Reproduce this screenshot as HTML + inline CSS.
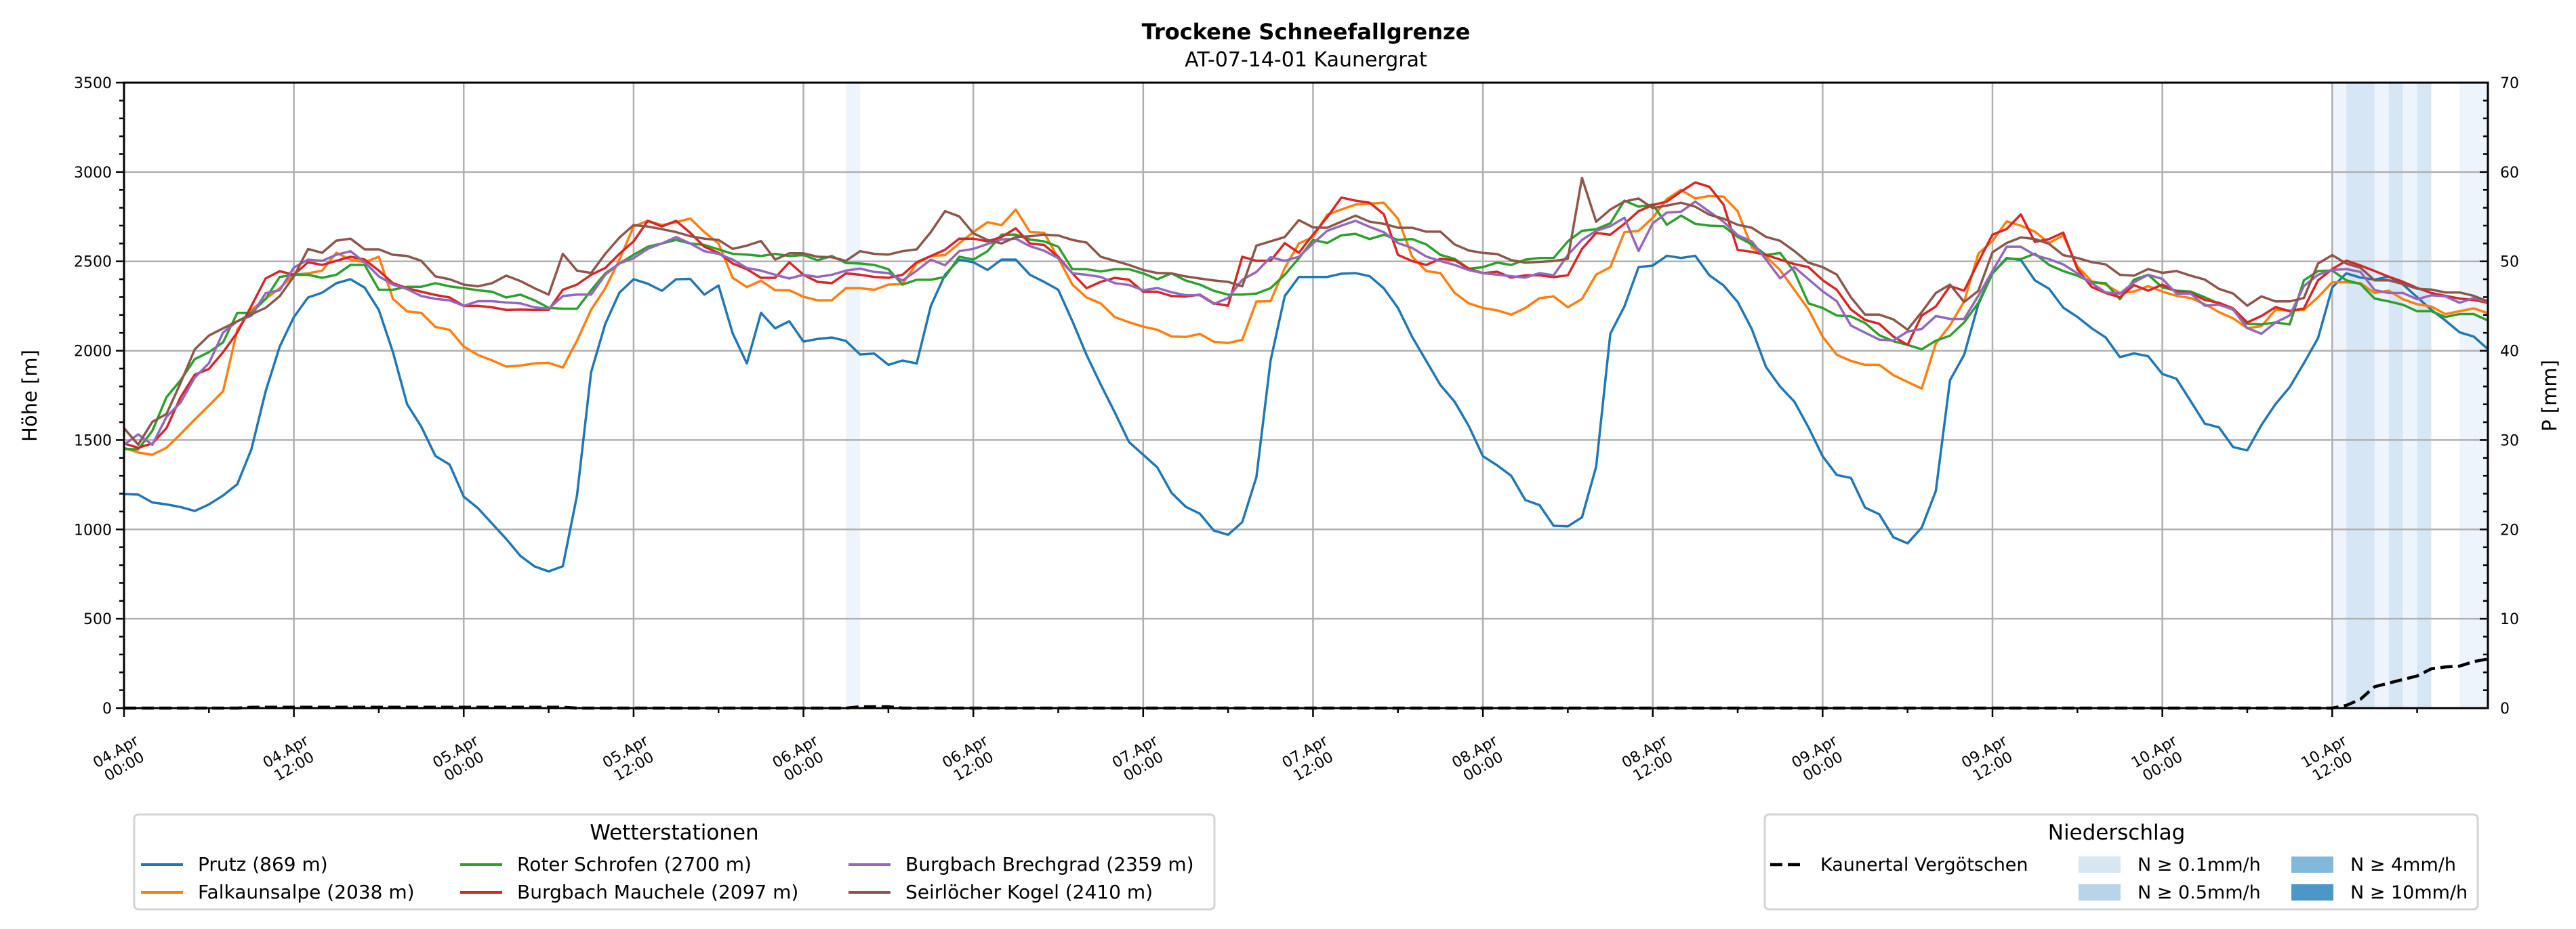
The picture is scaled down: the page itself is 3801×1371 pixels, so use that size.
<!DOCTYPE html>
<html><head><meta charset="utf-8"><style>
html,body{margin:0;padding:0;background:#fff;}
svg{display:block;font-family:"DejaVu Sans","Liberation Sans",sans-serif;}
</style></head><body>
<svg id="chart" width="3801" height="1371" viewBox="0 0 3801 1371" xmlns="http://www.w3.org/2000/svg">
<rect x="0" y="0" width="3801" height="1371" fill="#fff"/>
<text x="1927" y="58" text-anchor="middle" font-size="32" font-weight="bold">Trockene Schneefallgrenze</text>
<text x="1927" y="98" text-anchor="middle" font-size="30">AT-07-14-01 Kaunergrat</text>
<g id="bands"></g>
<g id="grid"></g>
<g id="series"></g>
<g id="axes"></g>
<text transform="translate(54,584) rotate(-90)" text-anchor="middle" font-size="29">Höhe [m]</text>
<text transform="translate(3772,584) rotate(-90)" text-anchor="middle" font-size="29">P [mm]</text>
<g id="legend1">
<rect x="198" y="1202" width="1594" height="140" rx="6" fill="#fff" stroke="#d4d4d4" stroke-width="3"/>
<text x="995" y="1239" text-anchor="middle" font-size="31">Wetterstationen</text>
</g>
<g id="legend2">
<rect x="2604" y="1202" width="1052" height="140" rx="6" fill="#fff" stroke="#d4d4d4" stroke-width="3"/>
<text x="3123" y="1239" text-anchor="middle" font-size="31">Niederschlag</text>
</g>
</svg>
<script>
const NS="http://www.w3.org/2000/svg";
const stationNames=["Prutz (869 m)","Falkaunsalpe (2038 m)","Roter Schrofen (2700 m)","Burgbach Mauchele (2097 m)","Burgbach Brechgrad (2359 m)","Seirlöcher Kogel (2410 m)"];
const stationColors=["#1f77b4","#ff7f0e","#2ca02c","#d62728","#9467bd","#8c564b"];
const xTickLabels=["04.Apr|00:00","04.Apr|12:00","05.Apr|00:00","05.Apr|12:00","06.Apr|00:00","06.Apr|12:00","07.Apr|00:00","07.Apr|12:00","08.Apr|00:00","08.Apr|12:00","09.Apr|00:00","09.Apr|12:00","10.Apr|00:00","10.Apr|12:00"];
const yTicks=[0,500,1000,1500,2000,2500,3000,3500];
const y2Ticks=[0,10,20,30,40,50,60,70];
const prutz=[1198,1195,1151,1140,1125,1103,1140,1190,1253,1449,1772,2023,2188,2298,2325,2378,2400,2353,2228,1992,1701,1575,1411,1363,1183,1119,1033,947,852,793,765,794,1190,1880,2150,2325,2400,2375,2335,2400,2402,2314,2365,2097,1929,2212,2125,2165,2051,2066,2074,2055,1979,1984,1921,1945,1929,2251,2425,2510,2495,2452,2510,2510,2425,2385,2341,2165,1976,1811,1654,1489,1418,1347,1205,1127,1088,993,970,1041,1293,1945,2306,2413,2413,2413,2431,2434,2417,2349,2239,2078,1943,1808,1715,1579,1410,1359,1300,1164,1136,1020,1017,1068,1351,2095,2248,2468,2476,2531,2519,2531,2422,2366,2273,2121,1909,1799,1715,1571,1410,1305,1288,1122,1085,956,922,1010,1215,1835,1977,2260,2433,2519,2508,2394,2347,2241,2189,2126,2074,1964,1985,1969,1870,1843,1718,1592,1571,1461,1442,1584,1702,1796,1930,2071,2354,2433,2409,2398,2414,2370,2300,2229,2169,2103,2079,2009];
const falkaunsalpe=[1457,1430,1418,1457,1534,1615,1693,1773,2117,2229,2290,2350,2425,2433,2448,2548,2510,2495,2526,2290,2220,2212,2133,2117,2023,1976,1946,1911,1917,1929,1932,1906,2056,2229,2350,2510,2695,2727,2703,2719,2740,2664,2600,2408,2356,2392,2338,2338,2302,2282,2282,2350,2350,2341,2370,2373,2488,2530,2535,2600,2664,2719,2703,2790,2664,2660,2518,2370,2298,2265,2188,2159,2135,2117,2080,2077,2094,2050,2043,2061,2275,2277,2463,2600,2636,2761,2790,2818,2823,2828,2739,2527,2446,2434,2324,2265,2239,2226,2202,2239,2294,2304,2243,2290,2426,2468,2663,2671,2744,2849,2900,2852,2866,2862,2781,2578,2527,2451,2341,2231,2079,1977,1943,1921,1921,1863,1825,1788,2040,2142,2276,2543,2614,2724,2700,2666,2603,2645,2472,2389,2370,2323,2331,2362,2331,2307,2295,2260,2216,2181,2126,2137,2229,2225,2229,2299,2383,2383,2378,2323,2336,2288,2260,2247,2205,2221,2237,2210];
const roterSchrofen=[1450,1448,1552,1740,1835,1953,1992,2047,2212,2212,2290,2413,2425,2425,2408,2425,2480,2480,2341,2341,2358,2358,2378,2360,2350,2338,2330,2298,2314,2282,2240,2235,2235,2338,2433,2488,2537,2582,2600,2620,2600,2592,2567,2542,2538,2530,2542,2530,2535,2506,2530,2491,2488,2480,2456,2370,2397,2397,2413,2526,2510,2557,2650,2650,2622,2612,2582,2456,2456,2443,2456,2456,2433,2400,2433,2393,2370,2335,2314,2314,2320,2350,2425,2518,2620,2603,2646,2654,2625,2649,2620,2625,2595,2536,2514,2459,2468,2493,2480,2510,2519,2519,2612,2671,2680,2713,2840,2806,2818,2705,2756,2710,2700,2697,2637,2595,2536,2547,2442,2265,2239,2197,2192,2155,2087,2053,2033,2008,2056,2084,2158,2268,2433,2515,2512,2543,2480,2446,2420,2383,2378,2288,2398,2425,2354,2336,2331,2299,2263,2229,2150,2147,2158,2147,2394,2446,2449,2394,2373,2292,2276,2257,2221,2221,2189,2205,2205,2169];
const mauchele=[1481,1457,1481,1567,1740,1866,1898,1992,2102,2251,2404,2445,2425,2495,2480,2503,2526,2510,2448,2378,2350,2330,2312,2298,2251,2251,2243,2228,2230,2228,2228,2341,2370,2425,2463,2542,2612,2727,2695,2727,2660,2582,2548,2488,2456,2408,2408,2495,2425,2385,2378,2433,2425,2413,2408,2425,2495,2530,2565,2627,2627,2612,2636,2685,2600,2592,2526,2433,2350,2385,2408,2397,2330,2330,2306,2303,2314,2265,2252,2526,2503,2503,2602,2548,2650,2747,2857,2840,2828,2764,2536,2502,2480,2514,2507,2459,2434,2442,2409,2422,2422,2412,2422,2570,2659,2649,2710,2781,2815,2835,2891,2942,2917,2818,2564,2553,2536,2510,2485,2468,2395,2341,2231,2172,2151,2079,2033,2197,2247,2362,2336,2496,2650,2681,2763,2609,2625,2661,2457,2357,2323,2299,2367,2336,2370,2331,2323,2284,2268,2237,2158,2194,2244,2221,2237,2394,2457,2504,2477,2446,2414,2386,2351,2323,2307,2292,2284,2268];
const brechgrad=[1474,1532,1474,1630,1710,1850,1930,2102,2165,2196,2322,2338,2465,2510,2503,2537,2557,2495,2416,2370,2345,2306,2290,2282,2251,2277,2277,2270,2265,2243,2235,2306,2314,2314,2425,2488,2518,2570,2600,2636,2600,2557,2542,2510,2463,2448,2425,2404,2425,2413,2425,2448,2460,2441,2435,2393,2448,2510,2478,2557,2570,2597,2622,2627,2585,2560,2518,2433,2425,2413,2378,2368,2338,2351,2327,2311,2311,2262,2295,2397,2441,2523,2503,2526,2600,2671,2700,2727,2693,2663,2603,2575,2527,2502,2480,2451,2434,2426,2417,2409,2434,2422,2536,2620,2671,2697,2744,2558,2713,2773,2778,2835,2778,2722,2646,2612,2510,2405,2468,2400,2333,2277,2141,2101,2062,2057,2107,2122,2194,2178,2178,2307,2446,2582,2582,2535,2512,2483,2433,2378,2326,2320,2383,2425,2402,2320,2320,2252,2257,2232,2126,2095,2158,2197,2362,2425,2452,2457,2441,2339,2323,2323,2288,2310,2304,2268,2295,2273];
const seirloecher=[1567,1474,1602,1646,1820,2008,2085,2125,2165,2204,2240,2305,2416,2569,2548,2616,2627,2567,2567,2537,2530,2503,2416,2400,2370,2360,2378,2420,2390,2350,2314,2542,2448,2435,2542,2633,2703,2695,2680,2664,2641,2627,2620,2570,2588,2614,2510,2545,2545,2526,2523,2503,2557,2542,2538,2557,2567,2664,2781,2752,2657,2620,2600,2636,2640,2650,2645,2620,2605,2526,2503,2480,2452,2435,2433,2416,2404,2393,2385,2360,2588,2612,2636,2731,2690,2688,2722,2756,2722,2710,2688,2688,2666,2666,2595,2561,2547,2541,2507,2493,2497,2502,2514,2967,2722,2790,2835,2852,2798,2812,2828,2806,2761,2739,2705,2688,2637,2615,2558,2493,2468,2426,2299,2202,2202,2175,2118,2216,2323,2370,2273,2335,2551,2603,2634,2625,2598,2535,2519,2496,2483,2425,2420,2457,2436,2446,2420,2398,2346,2320,2252,2304,2276,2276,2295,2488,2535,2488,2464,2394,2394,2373,2347,2342,2326,2326,2307,2276];
// cumulative precipitation (mm), hourly h0..h167 (rows of 12)
const precipSum=[
0,0,0,0,0,0,0,0,0,0.1,0.1,0.1,
0.1,0.1,0.1,0.1,0.1,0.1,0.1,0.1,0.1,0.1,0.1,0.1,
0.1,0.1,0.1,0.1,0.1,0.1,0.1,0.1,0,0,0,0,
0,0,0,0,0,0,0,0,0,0,0,0,
0,0,0,0,0.15,0.15,0.15,0,0,0,0,0,
0,0,0,0,0,0,0,0,0,0,0,0,
0,0,0,0,0,0,0,0,0,0,0,0,
0,0,0,0,0,0,0,0,0,0,0,0,
0,0,0,0,0,0,0,0,0,0,0,0,
0,0,0,0,0,0,0,0,0,0,0,0,
0,0,0,0,0,0,0,0,0,0,0,0,
0,0,0,0,0,0,0,0,0,0,0,0,
0,0,0,0,0,0,0,0,0,0,0,0,
0,0.3,1.0,2.4,2.8,3.2,3.6,4.4,4.6,4.7,5.2,5.5];
// hourly precipitation rate (mm/h) per interval [h, h+1]
const precipRateHours=[51,156,157,158,159,160,161,162,165,166];
const precipRateValues=[0.15,0.3,0.9,1.1,0.4,0.6,0.4,0.7,0.3,0.3];

const series=[prutz,falkaunsalpe,roterSchrofen,mauchele,brechgrad,seirloecher];
const L=183,R=3671,T=122,B=1045,NH=167;
const x=h=>L+h*(R-L)/NH;
const y=v=>B-v*(B-T)/3500;
const yP=p=>B-p*(B-T)/70;
function mk(tag,attrs,parent){const e=document.createElementNS(NS,tag);for(const k in attrs)e.setAttribute(k,attrs[k]);parent.appendChild(e);return e;}
const bands=document.getElementById('bands'),grid=document.getElementById('grid'),sg=document.getElementById('series'),ax=document.getElementById('axes');
function bandColor(r){return r>=10?"#4a97c8":r>=4?"#82b8d9":r>=0.5?"#d6e6f4":r>=0.1?"#eef4fb":null;}
precipRateHours.forEach((h,i)=>{const c=bandColor(precipRateValues[i]);if(!c)return;
 const r=mk('rect',{x:x(h),y:T,width:x(h+1)-x(h),height:B-T,fill:c},bands);
 
 });
yTicks.forEach(v=>{const l=mk('line',{x1:L,x2:R,y1:y(v),y2:y(v),stroke:"#b0b0b0","stroke-width":2.5},grid);
 
 });
xTickLabels.forEach((t,i)=>{const xx=x(i*12);const l=mk('line',{x1:xx,x2:xx,y1:T,y2:B,stroke:"#b0b0b0","stroke-width":2.5},grid);
 
 });
series.forEach((s,si)=>{const p=mk('polyline',{points:s.map((v,h)=>x(h).toFixed(1)+","+y(v).toFixed(1)).join(" "),fill:"none",stroke:stationColors[si],"stroke-width":3.5,"stroke-linejoin":"round"},sg);
 
 });
const pl=mk('polyline',{points:precipSum.map((v,h)=>x(h).toFixed(1)+","+yP(v).toFixed(1)).join(" "),fill:"none",stroke:"#000","stroke-width":4.5,"stroke-dasharray":"18,8"},sg);


const fr=mk('rect',{x:L,y:T,width:R-L,height:B-T,fill:"none",stroke:"#000","stroke-width":3},ax);


for(let v=0;v<=3500;v+=100){const maj=v%500===0;const t=mk('line',{x1:L,x2:L-(maj?12:7),y1:y(v),y2:y(v),stroke:"#000","stroke-width":2.5},ax);
 
 }
yTicks.forEach(v=>{const t=mk('text',{x:L-18,y:y(v)+8,"text-anchor":"end","font-size":22},ax);t.textContent=v;
 
 });
for(let p=0;p<=70;p+=2){const maj=p%10===0;const t=mk('line',{x1:R,x2:R-(maj?12:7),y1:yP(p),y2:yP(p),stroke:"#000","stroke-width":2.5},ax);
 
 }
y2Ticks.forEach(p=>{const t=mk('text',{x:R+18,y:yP(p)+8,"text-anchor":"start","font-size":22},ax);t.textContent=p;
 
 });
for(let h=0;h<=NH;h+=6){const maj=h%12===0;const t=mk('line',{x1:x(h),x2:x(h),y1:B,y2:B+(maj?13:7),stroke:"#000","stroke-width":2.5},ax);
 
 }
xTickLabels.forEach((lab,i)=>{const xx=x(i*12)-6,yy=1120;const parts=lab.split("|");
 const t=mk('text',{transform:`translate(${xx},${yy}) rotate(-30)`,"text-anchor":"middle","font-size":22},ax);
 
 
 mk('tspan',{x:0,dy:-5},t).textContent=parts[0];
 mk('tspan',{x:0,dy:25},t).textContent=parts[1];});
const lg1=document.getElementById('legend1');
const colX=[208,679,1252],rowY=[1276,1317];
stationNames.forEach((n,i)=>{const cx=colX[Math.floor(i/2)],cy=rowY[i%2];
 const g=mk('g',{},lg1);
 
 
 mk('line',{x1:cx,x2:cx+62,y1:cy,y2:cy,stroke:stationColors[i],"stroke-width":4},g);
 mk('text',{x:cx+84,y:cy+9,"font-size":28},g).textContent=n;});
const lg2=document.getElementById('legend2');
const g0=mk('g',{},lg2);


mk('line',{x1:2612,x2:2664,y1:1276,y2:1276,stroke:"#000","stroke-width":4.5,"stroke-dasharray":"18,8"},g0);
mk('text',{x:2686,y:1285,"font-size":27},g0).textContent="Kaunertal Vergötschen";
const patches=[["N ≥ 0.1mm/h","#d6e6f3",3067,1276],["N ≥ 0.5mm/h","#b8d4ea",3067,1317],["N ≥ 4mm/h","#82b8d9",3381,1276],["N ≥ 10mm/h","#4a97c8",3381,1317]];
patches.forEach(p=>{const g=mk('g',{},lg2);
 
 
 mk('rect',{x:p[2],y:p[3]-12,width:62,height:24,fill:p[1]},g);
 mk('text',{x:p[2]+87,y:p[3]+9,"font-size":27},g).textContent=p[0];});
</script>
</body></html>
